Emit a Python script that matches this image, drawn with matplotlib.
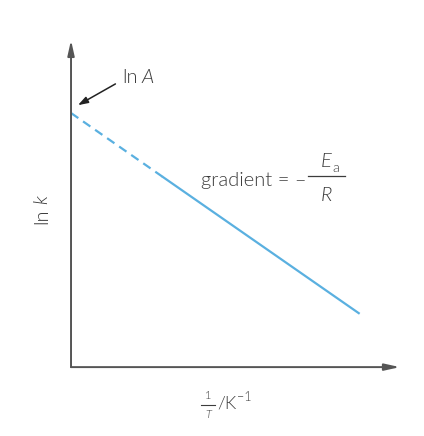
import matplotlib
matplotlib.use("Agg")
import matplotlib.pyplot as plt

plt.rcParams['font.family'] = ['Lato', 'DejaVu Sans']
plt.rcParams['font.weight'] = 300

# schematic Arrhenius plot values (axis units 0..10)
inv_T = [0.0, 2.8, 8.75]
ln_k = [7.77, 5.81, 1.65]

line_col = '#5ab0e0'
axis_col = '#555555'
text_col = '#3c3c3c'
fs = 14.5

fig = plt.figure(figsize=(4.24, 4.36), dpi=100)
ax = fig.add_axes([0.1675, 0.158, 0.7755, 0.75])
ax.set_xlim(0, 10)
ax.set_ylim(0, 10)
ax.axis('off')

# axes with arrows
arrow = dict(arrowstyle='-|>,head_length=0.9,head_width=0.2', color=axis_col, lw=1.4,
             shrinkA=0, shrinkB=0)
ax.annotate('', xy=(1, 0), xytext=(0, 0), xycoords='axes fraction', arrowprops=arrow)
ax.annotate('', xy=(0, 1), xytext=(0, 0), xycoords='axes fraction', arrowprops=arrow)

# extrapolated (dashed) and measured (solid) part
ax.plot(inv_T[:2], ln_k[:2], color=line_col, lw=1.6, ls=(0, (4, 2.6)), solid_capstyle='butt')
ax.plot(inv_T[1:], ln_k[1:], color=line_col, lw=1.6)

# intercept label
ax.annotate('', xy=(0.21, 8.01), xytext=(1.35, 8.66),
            arrowprops=dict(arrowstyle='-|>,head_length=0.6,head_width=0.2', color='#222222',
                            lw=1.1, shrinkA=0, shrinkB=0))
ax.text(1.55, 8.87, 'ln', color=text_col, fontsize=fs, ha='left', va='center')
ax.text(2.14, 8.87, 'A', color=text_col, fontsize=fs, style='italic', ha='left', va='center')

# gradient label
ax.text(7.17, 5.72, 'gradient = –', color=text_col, fontsize=fs, ha='right', va='center')
ax.text(7.92, 6.28, 'E', color=text_col, fontsize=fs, style='italic', ha='right', va='center')
ax.text(7.95, 6.08, 'a', color=text_col, fontsize=fs * 0.7, ha='left', va='center')
ax.plot([7.2, 8.33], [5.84, 5.84], color=text_col, lw=0.9)
ax.text(7.77, 5.24, 'R', color=text_col, fontsize=fs, style='italic', ha='center', va='center')

# axis labels
ax.text(-0.88, 4.6, 'ln', color=text_col, fontsize=fs, rotation=90,
        ha='center', va='center', clip_on=False)
ax.text(-0.88, 5.12, 'k', color=text_col, fontsize=fs, style='italic', rotation=90,
        ha='center', va='center', clip_on=False)
ax.text(4.16, -0.86, '1', color=text_col, fontsize=8, ha='center', va='center', clip_on=False)
ax.plot([3.95, 4.37], [-1.16, -1.16], color=text_col, lw=0.8, clip_on=False)
ax.text(4.16, -1.44, 'T', color=text_col, fontsize=8, style='italic', ha='center', va='center',
        clip_on=False)
ax.text(4.44, -1.12, '/K', color=text_col, fontsize=13, ha='left', va='center', clip_on=False)
ax.text(5.06, -0.9, '−1', color=text_col, fontsize=9, ha='left', va='center', clip_on=False)

fig.savefig('out.png', dpi=100)
